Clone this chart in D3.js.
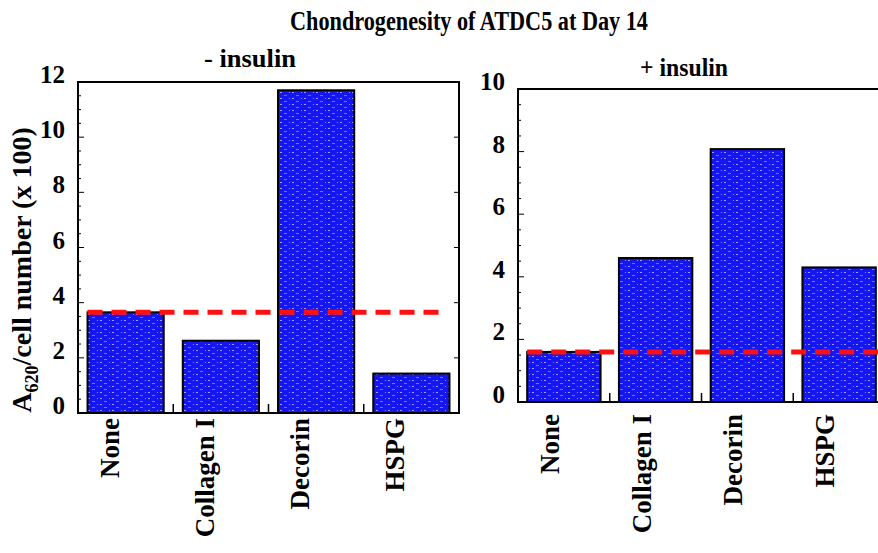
<!DOCTYPE html>
<html>
<head>
<meta charset="utf-8">
<script src="https://cdn.jsdelivr.net/npm/d3@7"></script>
<style>
  body { margin: 0; background: #fff; }
  svg { display: block; }
</style>
</head>
<body>
<svg id="chart" width="878" height="553"></svg>
<script>
// data
const categories = ["None", "Collagen I", "Decorin", "HSPG"];
const minusInsulin = [3.65, 2.62, 11.7, 1.43];
const plusInsulin = [1.6, 4.6, 8.08, 4.3];
const minusBaseline = 3.65;
const plusBaseline = 1.6;
const minusTicks = [0, 2, 4, 6, 8, 10, 12];
const plusTicks = [0, 2, 4, 6, 8, 10];

const serif = "'Liberation Serif', 'Times New Roman', Times, serif";
const svg = d3.select("#chart").attr("font-family", serif);

// stippled blue fill like the scanned bars
const defs = svg.append("defs");
const pat = defs.append("pattern")
  .attr("id", "stipple")
  .attr("patternUnits", "userSpaceOnUse")
  .attr("width", 12)
  .attr("height", 6);
pat.append("rect").attr("width", 12).attr("height", 6).attr("fill", "#1616ee");
pat.append("rect").attr("x", 1).attr("y", 2).attr("width", 1).attr("height", 1).attr("fill", "#8a8aff");
pat.append("rect").attr("x", 4).attr("y", 2).attr("width", 2).attr("height", 1).attr("fill", "#9a9aff");
pat.append("rect").attr("x", 8).attr("y", 5).attr("width", 3).attr("height", 1).attr("fill", "#7070ff");

svg.append("text")
  .attr("x", 469)
  .attr("y", 30)
  .attr("text-anchor", "middle")
  .attr("textLength", 358)
  .attr("lengthAdjust", "spacingAndGlyphs")
  .attr("font-family", serif)
  .style("font-size", "27px")
  .style("font-weight", "bold")
  .text("Chondrogenesity of ATDC5 at Day 14");

function drawPanel(opts) {
  const x = d3.scaleBand()
    .domain(categories)
    .range([opts.left, opts.right])
    .paddingInner(0.2)
    .paddingOuter(0.1);
  const y = d3.scaleLinear()
    .domain([0, opts.max])
    .range([opts.bottom, opts.top]);

  const g = svg.append("g");

  // bars
  g.selectAll("rect.bar")
    .data(opts.values)
    .enter()
    .append("rect")
    .attr("class", "bar")
    .attr("x", (d, i) => x(categories[i]))
    .attr("y", (d) => y(d))
    .attr("width", x.bandwidth())
    .attr("height", (d) => y(0) - y(d))
    .style("fill", "url(#stipple)")
    .style("stroke", "#000")
    .style("stroke-width", 2);

  // frame
  g.append("path")
    .attr("d", opts.closed
      ? `M${opts.left},${opts.top} H${opts.right} V${opts.bottom} H${opts.left} Z`
      : `M${opts.right},${opts.top} H${opts.left} V${opts.bottom} H${opts.right}`)
    .style("fill", "none")
    .style("stroke", "#000")
    .style("stroke-width", 2);

  // y axis: inward ticks, minor every 0.5
  const minor = d3.range(0, opts.max + 0.001, 0.5);
  g.selectAll("line.minor")
    .data(minor)
    .enter()
    .append("line")
    .attr("x1", opts.left)
    .attr("x2", (d) => opts.left + (d % 2 === 0 ? 6 : 3))
    .attr("y1", (d) => y(d))
    .attr("y2", (d) => y(d))
    .style("stroke", "#000")
    .style("stroke-width", 1);
  if (opts.closed) {
    g.selectAll("line.mirror")
      .data(opts.ticks)
      .enter()
      .append("line")
      .attr("x1", opts.right)
      .attr("x2", opts.right - 5)
      .attr("y1", (d) => y(d))
      .attr("y2", (d) => y(d))
      .style("stroke", "#000")
      .style("stroke-width", 1);
  }
  g.selectAll("text.ytick")
    .data(opts.ticks)
    .enter()
    .append("text")
    .attr("x", opts.left - 13)
    .attr("y", (d) => y(d) + 1)
    .attr("text-anchor", "end")
    .attr("font-family", serif)
    .style("font-size", "25px")
    .style("font-weight", "bold")
    .text((d) => d);

  // category boundary ticks on the bottom
  const bounds = categories.slice(1).map((c) => x(c) - x.step() * x.paddingInner() / 2);
  g.selectAll("line.bound")
    .data(bounds)
    .enter()
    .append("line")
    .attr("x1", (d) => d)
    .attr("x2", (d) => d)
    .attr("y1", opts.bottom)
    .attr("y2", opts.bottom - 9)
    .style("stroke", "#000")
    .style("stroke-width", 1.5);

  // baseline (level of "None")
  g.append("line")
    .attr("x1", x(categories[0]))
    .attr("x2", opts.dashEnd)
    .attr("y1", y(opts.baseline))
    .attr("y2", y(opts.baseline))
    .style("stroke", "#ff1010")
    .style("stroke-width", 5)
    .style("stroke-dasharray", "15,9");

  // category labels, rotated
  g.selectAll("text.cat")
    .data(categories)
    .enter()
    .append("text")
    .attr("transform", (d) =>
      `translate(${x(d) + x.bandwidth() / 2 + opts.labelShift},${opts.labelTop}) rotate(-90)`)
    .attr("text-anchor", "end")
    .attr("font-family", serif)
    .style("font-size", "27px")
    .style("font-weight", "bold")
    .text((d) => d);

  // panel title
  svg.append("text")
    .attr("x", opts.titleX)
    .attr("y", opts.titleY)
    .attr("text-anchor", "middle")
    .attr("textLength", opts.titleLen)
    .attr("lengthAdjust", "spacingAndGlyphs")
    .attr("font-family", serif)
    .style("font-size", "26px")
    .style("font-weight", "bold")
    .text(opts.title);
}

drawPanel({
  left: 78, right: 459, top: 82, bottom: 413,
  max: 12, ticks: minusTicks, values: minusInsulin,
  baseline: minusBaseline, dashEnd: 440, closed: true,
  labelShift: -7, labelTop: 418,
  title: "- insulin", titleX: 250, titleY: 67, titleLen: 92
});

drawPanel({
  left: 518, right: 885, top: 89, bottom: 402,
  max: 10, ticks: plusTicks, values: plusInsulin,
  baseline: plusBaseline, dashEnd: 878, closed: false,
  labelShift: -5, labelTop: 414,
  title: "+ insulin", titleX: 684, titleY: 76, titleLen: 88
});

// y axis title with subscript
const yt = svg.append("text")
  .attr("transform", "translate(31,270) rotate(-90)")
  .attr("text-anchor", "middle")
  .attr("font-family", serif)
  .style("font-size", "28px")
  .style("font-weight", "bold");
yt.append("tspan").text("A");
yt.append("tspan").attr("dy", 7).style("font-size", "18px").text("620");
yt.append("tspan").attr("dy", -7).text("/cell number (x 100)");
</script>
</body>
</html>
